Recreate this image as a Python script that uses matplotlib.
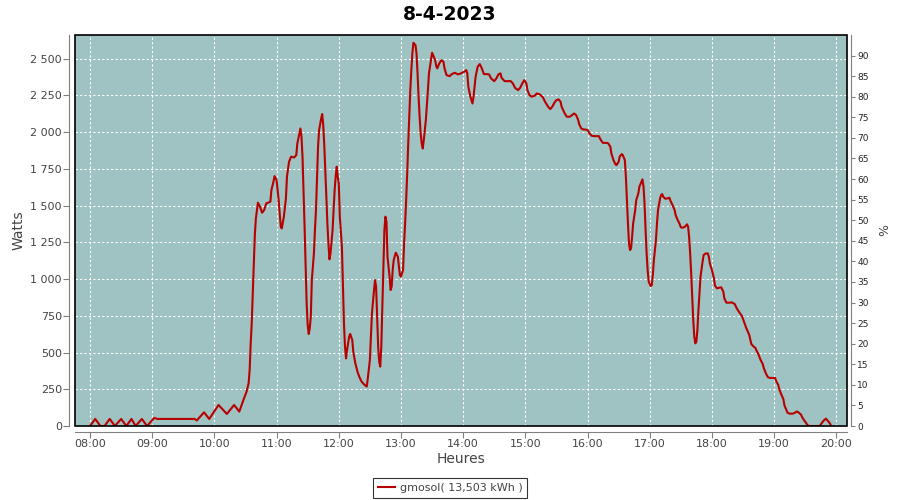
## Import libraries
import pandas as pd
import matplotlib
matplotlib.use('Agg')
import matplotlib.pyplot as plt
import matplotlib.dates as mdates
import matplotlib.patches as patches
from matplotlib.ticker import FuncFormatter, MultipleLocator


## Data
day = '2023-04-08'
title = '8-4-2023'
serie = 'gmosol( 13,503 kWh )'

heures = ['08:00', '08:05', '08:10', '08:14', '08:19', '08:24', '08:30', '08:35', '08:40', '08:44',
          '08:50', '08:55', '09:02', '09:05', '09:41', '09:43', '09:50', '09:55', '10:04', '10:12',
          '10:19', '10:24', '10:28', '10:31', '10:33', '10:34', '10:35', '10:36', '10:37', '10:38',
          '10:39', '10:40', '10:42', '10:44', '10:46', '10:48', '10:50', '10:54', '10:55', '10:57',
          '10:58', '11:00', '11:02', '11:03', '11:04', '11:05', '11:07', '11:09', '11:10', '11:12',
          '11:14', '11:17', '11:19', '11:20', '11:22', '11:23', '11:24', '11:25', '11:26', '11:27',
          '11:28', '11:29', '11:30', '11:31', '11:32', '11:33', '11:34', '11:35', '11:36', '11:37',
          '11:38', '11:39', '11:40', '11:41', '11:43', '11:44', '11:45', '11:46', '11:47', '11:48',
          '11:49', '11:50', '11:51', '11:52', '11:54', '11:55', '11:56', '11:57', '11:58', '11:59',
          '12:00', '12:01', '12:03', '12:04', '12:05', '12:06', '12:07', '12:08', '12:10', '12:11',
          '12:13', '12:14', '12:16', '12:18', '12:20', '12:22', '12:25', '12:27', '12:28', '12:30',
          '12:31', '12:32', '12:34', '12:35', '12:36', '12:37', '12:38', '12:39', '12:40', '12:41',
          '12:42', '12:43', '12:44', '12:45', '12:46', '12:47', '12:49', '12:50', '12:51', '12:52',
          '12:53', '12:55', '12:57', '12:58', '12:59', '13:00', '13:02', '13:03', '13:04', '13:05',
          '13:06', '13:07', '13:08', '13:09', '13:10', '13:11', '13:12', '13:14', '13:15', '13:16',
          '13:17', '13:18', '13:19', '13:20', '13:21', '13:22', '13:23', '13:24', '13:25', '13:26',
          '13:27', '13:29', '13:30', '13:31', '13:33', '13:34', '13:35', '13:37', '13:39', '13:41',
          '13:42', '13:44', '13:47', '13:49', '13:52', '13:55', '13:58', '14:01', '14:03', '14:04',
          '14:05', '14:07', '14:09', '14:10', '14:11', '14:12', '14:14', '14:16', '14:18', '14:20',
          '14:23', '14:25', '14:27', '14:30', '14:32', '14:34', '14:36', '14:37', '14:40', '14:42',
          '14:46', '14:48', '14:50', '14:53', '14:55', '14:57', '14:59', '15:01', '15:02', '15:04',
          '15:06', '15:09', '15:11', '15:14', '15:17', '15:19', '15:22', '15:24', '15:26', '15:28',
          '15:30', '15:32', '15:34', '15:35', '15:38', '15:40', '15:43', '15:45', '15:47', '15:49',
          '15:51', '15:52', '15:54', '15:56', '15:58', '16:00', '16:02', '16:04', '16:07', '16:11',
          '16:12', '16:14', '16:15', '16:19', '16:20', '16:22', '16:23', '16:25', '16:27', '16:28',
          '16:30', '16:31', '16:33', '16:34', '16:36', '16:37', '16:38', '16:39', '16:40', '16:41',
          '16:42', '16:43', '16:44', '16:46', '16:47', '16:49', '16:50', '16:52', '16:53', '16:54',
          '16:55', '16:56', '16:57', '16:58', '16:59', '17:01', '17:02', '17:03', '17:04', '17:06',
          '17:07', '17:08', '17:10', '17:11', '17:12', '17:13', '17:15', '17:17', '17:19', '17:20',
          '17:22', '17:24', '17:25', '17:27', '17:29', '17:30', '17:32', '17:34', '17:36', '17:37',
          '17:38', '17:39', '17:40', '17:41', '17:42', '17:43', '17:44', '17:45', '17:46', '17:47',
          '17:48', '17:49', '17:51', '17:52', '17:54', '17:56', '17:57', '17:58', '18:00', '18:02',
          '18:03', '18:05', '18:07', '18:09', '18:11', '18:12', '18:14', '18:17', '18:19', '18:22',
          '18:24', '18:26', '18:29', '18:31', '18:33', '18:36', '18:38', '18:40', '18:42', '18:43',
          '18:45', '18:47', '18:49', '18:50', '18:52', '18:54', '18:56', '18:58', '19:01', '19:02',
          '19:04', '19:05', '19:07', '19:09', '19:10', '19:12', '19:13', '19:15', '19:18', '19:20',
          '19:22', '19:24', '19:26', '19:27', '19:29', '19:31', '19:32', '19:34', '19:44', '19:46',
          '19:48', '19:50', '19:52', '19:54', '19:55']

watts = [0, 48, 0, 0, 48, 0, 48, 0, 48, 0,
         48, 0, 55, 48, 48, 38, 93, 48, 143, 82,
         143, 98, 177, 233, 290, 381, 560, 698, 902, 1118,
         1299, 1412, 1519, 1492, 1451, 1469, 1514, 1526, 1605, 1662,
         1700, 1673, 1537, 1446, 1356, 1344, 1424, 1548, 1696, 1798,
         1832, 1827, 1843, 1922, 1990, 2024, 1968, 1832, 1605, 1356,
         1084, 834, 687, 626, 664, 744, 993, 1084, 1174, 1333,
         1469, 1696, 1900, 2013, 2092, 2122, 2047, 1911, 1741, 1560,
         1378, 1242, 1134, 1174, 1333, 1469, 1605, 1696, 1764, 1696,
         1650, 1424, 1220, 948, 698, 540, 460, 517, 608, 626,
         585, 505, 426, 370, 331, 302, 279, 268, 324, 449,
         608, 766, 925, 993, 948, 744, 540, 438, 404, 540,
         812, 1084, 1333, 1424, 1390, 1152, 1016, 925, 948, 1061,
         1129, 1179, 1152, 1084, 1027, 1016, 1061, 1242, 1378, 1537,
         1718, 1922, 2104, 2285, 2421, 2534, 2607, 2591, 2534, 2398,
         2240, 2104, 1990, 1922, 1888, 1945, 2013, 2081, 2183, 2285,
         2398, 2489, 2539, 2523, 2489, 2449, 2433, 2467, 2489, 2478,
         2433, 2387, 2380, 2394, 2403, 2392, 2399, 2410, 2421, 2399,
         2308, 2240, 2194, 2240, 2308, 2376, 2444, 2462, 2433, 2394,
         2394, 2392, 2364, 2346, 2364, 2392, 2399, 2369, 2346, 2346,
         2346, 2330, 2301, 2285, 2301, 2330, 2353, 2330, 2285, 2251,
         2240, 2247, 2262, 2256, 2235, 2206, 2172, 2156, 2172, 2199,
         2217, 2222, 2206, 2172, 2126, 2104, 2104, 2115, 2126, 2115,
         2081, 2052, 2024, 2017, 2017, 2013, 1990, 1974, 1972, 1972,
         1956, 1933, 1926, 1926, 1922, 1900, 1854, 1809, 1780, 1775,
         1798, 1832, 1850, 1843, 1809, 1696, 1537, 1378, 1242, 1197,
         1208, 1288, 1378, 1469, 1537, 1582, 1628, 1662, 1678, 1628,
         1514, 1333, 1174, 1061, 982, 952, 959, 1027, 1129, 1265,
         1378, 1469, 1548, 1571, 1578, 1560, 1546, 1548, 1553, 1532,
         1503, 1469, 1435, 1401, 1372, 1351, 1349, 1356, 1372, 1356,
         1288, 1174, 1038, 880, 721, 608, 562, 574, 653, 789,
         902, 1016, 1118, 1163, 1174, 1174, 1152, 1106, 1061, 1004,
         954, 936, 941, 943, 914, 868, 839, 839, 841, 830,
         800, 778, 748, 709, 669, 620, 558, 542, 531, 513,
         486, 449, 422, 395, 359, 332, 327, 327, 327, 305,
         280, 248, 215, 181, 140, 106, 90, 84, 84, 90,
         99, 90, 77, 61, 38, 20, 7, 0, 0, 20,
         38, 50, 34, 16, 0]

wmax = 2660      # haut de l'axe Watts
pct_max = 95     # haut de l'axe %


## Core
t = pd.to_datetime([day + ' ' + h for h in heures])

fig = plt.figure(figsize=(9, 5), dpi=100)
ax = fig.add_axes([75/900, 1-426/500, 772/900, 391/500])
ax.set_facecolor('#9ec3c2')

ax.plot(t, watts, color='#b80000', lw=1.5, label=serie, zorder=3)

ax.set_xlim(pd.Timestamp(day + ' 07:45:30'), pd.Timestamp(day + ' 20:10:20'))
ax.set_ylim(0, wmax)
ax.xaxis.set_major_locator(mdates.HourLocator())
ax.xaxis.set_major_formatter(mdates.DateFormatter('%H:%M'))
ax.yaxis.set_major_locator(MultipleLocator(250))
ax.yaxis.set_major_formatter(FuncFormatter(lambda v, p: f'{int(v):,}'.replace(',', ' ')))
ax.grid(True, color='white', linestyle=(0, (2, 2)), linewidth=0.8)
ax.set_axisbelow(True)

gris = '#808080'
for s in ['top', 'right']:
    ax.spines[s].set_visible(False)
for s in ['left', 'bottom']:
    ax.spines[s].set_position(('outward', 4))
    ax.spines[s].set_color(gris)
ax.tick_params(colors=gris, labelcolor='#444444', labelsize=8, length=4, width=0.8, pad=1.5)

ax.set_ylabel('Watts', fontsize=10, color='#444444', labelpad=3)
ax.set_xlabel('Heures', fontsize=10, color='#444444', labelpad=2)

# axe de droite en %
ax2 = ax.twinx()
ax2.set_ylim(0, pct_max)
ax2.set_yticks(range(0, 91, 5))
for s in ['top', 'left', 'bottom']:
    ax2.spines[s].set_visible(False)
ax2.spines['right'].set_position(('outward', 3))
ax2.spines['right'].set_color(gris)
ax2.tick_params(colors=gris, labelcolor='#222222', labelsize=6.5, length=3, width=0.8, pad=1.5)
ax2.set_ylabel('%', fontsize=9, color='#444444', labelpad=7)

# cadre noir de la zone de trace
ax.add_patch(patches.Rectangle((0, 0), 1, 1, transform=ax.transAxes, fill=False,
                               edgecolor='black', lw=1.2, zorder=5, clip_on=False))

fig.text(0.5, 1-14/500, title, ha='center', va='center', fontsize=13.5, fontweight='bold')

leg = fig.legend(handles=ax.get_lines(), loc='center', bbox_to_anchor=(0.5, 1-488/500),
                 fontsize=8, frameon=True, fancybox=False, edgecolor='black',
                 handlelength=1.6, borderpad=0.45, handletextpad=0.4, borderaxespad=0)
leg.get_frame().set_linewidth(0.8)
for txt in leg.get_texts():
    txt.set_color('#444444')

fig.savefig('out.png', dpi=100)
